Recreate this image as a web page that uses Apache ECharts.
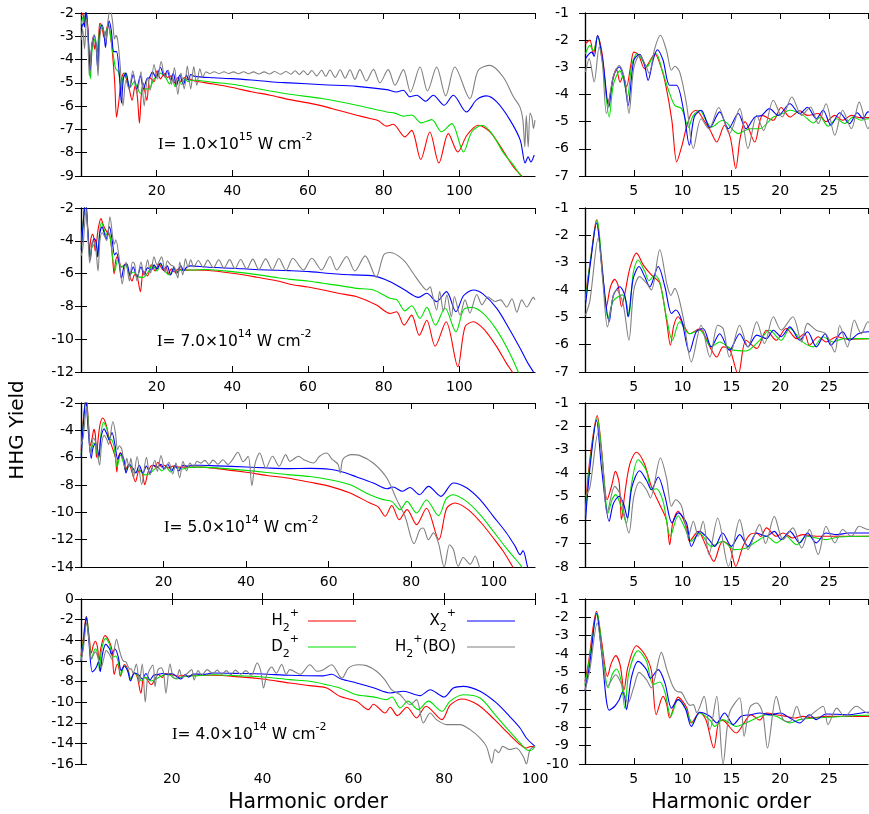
<!DOCTYPE html>
<html><head><meta charset="utf-8">
<script src="https://cdn.jsdelivr.net/npm/echarts@6/dist/echarts.min.js"></script>
<style>html,body{margin:0;padding:0;background:#fff}#c{width:869px;height:814px}</style>
</head><body><div id="c"></div>
<script>
// ---------------- DATA (harmonic order, log10 yield) ----------------
const seriesNames = ['H2+', 'D2+', 'X2+', 'H2+(BO)'];
const intensityMantissa = ['1.0', '7.0', '5.0', '4.0'];
const intensityExponent = ['15', '14', '14', '14'];
const leftXMax = [120, 120, 110, 100];
const leftYMin = [-9, -12, -14, -16];
const leftYMax = [-2, -2, -2, 0];
const leftYInterval = [1, 2, 2, 2];
const rightXMax = 29;
const rightYMin = [-7, -7, -8, -10];
const rightYMax = [-1, -1, -1, -1];

// Row 1: I = 1.0e15
const r1_H2 = [[0.05,-2.13],[0.5,-2.0],[0.85,-2.5],[1.3,-1.85],[1.8,-2.6],[2.35,-4.3],[2.9,-3.4],[3.2,-3.05],[3.6,-3.55],[3.9,-3.3],[4.25,-3.72],[4.7,-2.9],[5.0,-2.44],[5.5,-2.55],[6.1,-3.05],[6.6,-2.8],[7.15,-2.5],[7.8,-3.0],[8.3,-3.7],[8.9,-4.95],[9.4,-6.48],[9.9,-5.93],[10.4,-5.2],[10.9,-4.7],[11.4,-4.58],[12.1,-4.9],[12.8,-5.3],[13.5,-5.75],[14.3,-5.13],[14.9,-5.6],[15.45,-6.73],[15.9,-5.6],[16.4,-5.0],[17.4,-5.75],[18.2,-4.77],[19.3,-4.95],[20.1,-4.48],[21,-4.83],[22,-4.6],[22.8,-4.77],[23.9,-4.7],[24.7,-5.0],[25.6,-4.77],[26.4,-4.95],[27.3,-4.77],[28.1,-4.85],[29,-4.85],[30,-4.92],[35,-5.05],[40,-5.2],[45,-5.38],[50,-5.53],[55.2,-5.72],[60,-5.86],[64,-6.0],[68,-6.18],[72.9,-6.39],[76.4,-6.53],[78.5,-6.62],[80.8,-6.86],[82.5,-6.78],[85.6,-7.32],[87.4,-7.04],[89.8,-8.29],[92.2,-7.11],[94.6,-8.44],[97.1,-7.18],[99.6,-7.97],[102,-7.25],[105,-6.82],[108.1,-7.11],[111.8,-7.97],[114.3,-8.61],[116.5,-9.0],[118,-9.3]];
const r1_D2 = [[0.05,-2.5],[0.5,-2.19],[0.85,-2.4],[1.28,-1.88],[1.85,-2.98],[2.48,-4.83],[2.9,-3.65],[3.57,-3.13],[4.0,-3.53],[4.35,-4.09],[4.8,-2.9],[5.34,-2.5],[5.9,-2.75],[6.37,-2.98],[6.8,-2.7],[7.3,-2.5],[7.9,-3.1],[8.68,-3.97],[9.2,-4.4],[9.9,-4.52],[10.6,-5.2],[11.1,-4.77],[11.76,-4.58],[12.4,-4.95],[12.95,-5.2],[14.1,-4.95],[15.7,-5.44],[16.9,-5.26],[17.9,-5.26],[19.3,-4.83],[20.1,-4.73],[21,-4.58],[22.3,-4.75],[23.4,-5.05],[24.1,-4.83],[24.9,-5.17],[25.8,-4.89],[26.6,-5.07],[27.5,-4.83],[28.3,-4.95],[29,-4.89],[30,-4.89],[35,-4.98],[40,-5.06],[45,-5.2],[50,-5.35],[55.2,-5.49],[64,-5.68],[72.9,-5.96],[80.8,-6.25],[83,-6.3],[85.2,-6.43],[87.4,-6.38],[89.9,-6.72],[92.7,-6.58],[95.3,-7.1],[98,-6.75],[101.1,-7.97],[103.3,-7.1],[106,-6.82],[108.6,-7.18],[111.8,-8.04],[114,-8.47],[116.3,-9.0],[118,-9.3]];
const r1_X2 = [[0.05,-2.68],[0.67,-2.44],[0.94,-2.6],[1.28,-1.82],[1.86,-2.87],[2.44,-4.46],[2.88,-3.36],[3.5,-2.99],[3.98,-3.36],[4.42,-4.4],[5.0,-2.74],[5.6,-2.52],[6.1,-2.92],[6.47,-3.48],[6.98,-2.73],[7.42,-2.35],[8.0,-2.74],[8.68,-3.66],[9.37,-3.66],[10.1,-4.58],[10.7,-5.87],[11.2,-4.82],[11.9,-4.58],[12.8,-5.22],[13.8,-4.64],[14.7,-5.26],[15.7,-4.7],[16.5,-5.26],[17.4,-4.83],[18.1,-4.77],[18.9,-4.52],[19.8,-4.77],[21,-4.34],[22,-4.71],[22.8,-4.47],[23.7,-4.89],[24.4,-4.58],[25.2,-5.13],[26.1,-4.67],[27.1,-5.07],[27.9,-4.67],[28.5,-4.89],[29,-4.64],[30,-4.72],[35,-4.78],[40,-4.82],[45,-4.88],[50,-4.95],[55.2,-5.0],[64,-5.08],[72.9,-5.15],[80.8,-5.29],[83.4,-5.39],[85.2,-5.32],[86.9,-5.6],[88.7,-5.53],[91.1,-5.79],[93.1,-5.53],[96,-5.96],[98.4,-5.53],[101.9,-6.25],[104.6,-5.72],[107.2,-5.56],[109.9,-5.82],[113.4,-6.6],[116.1,-7.46],[117.4,-8.44],[118.2,-8.18],[118.9,-8.4],[119.8,-8.1]];
const r1_BO = [[0.05,-3.17],[0.43,-2.68],[0.94,-3.54],[1.45,-2.25],[1.8,-2.9],[2.2,-4.7],[2.88,-3.36],[3.5,-2.93],[4.1,-3.5],[4.5,-4.7],[5.0,-3.02],[5.6,-2.56],[6.3,-3.0],[6.57,-3.23],[7.15,-2.3],[7.73,-1.82],[8.35,-2.38],[8.86,-3.11],[9.2,-2.96],[9.7,-3.17],[10.4,-4.34],[11.1,-5.99],[11.9,-4.89],[12.7,-5.26],[13.7,-4.48],[14.8,-5.44],[15.85,-4.52],[16.7,-5.99],[17.6,-4.77],[18.3,-5.32],[19.3,-4.21],[20.2,-4.83],[21.2,-4.09],[22.2,-4.77],[23.1,-4.46],[23.9,-5.07],[24.7,-4.34],[25.6,-5.5],[26.4,-4.58],[27.3,-5.26],[28.1,-4.28],[29,-5.26],[29.8,-4.3],[30.6,-5.1],[31.4,-4.4],[32.2,-4.75],[33,-4.52],[34,-4.6],[35.2,-4.52],[36.5,-4.6],[37.8,-4.52],[39,-4.6],[40.3,-4.53],[41.6,-4.61],[43,-4.52],[44.3,-4.61],[45.6,-4.53],[47,-4.62],[48.4,-4.53],[49.8,-4.62],[51.2,-4.51],[52.7,-4.63],[54.2,-4.51],[55.5,-4.63],[56.6,-4.48],[57.7,-4.64],[58.8,-4.48],[59.9,-4.65],[61,-4.47],[62.3,-4.7],[63.6,-4.46],[64.7,-4.72],[65.8,-4.45],[67.2,-4.76],[68.5,-4.44],[69.8,-4.8],[71.1,-4.44],[72.4,-4.85],[73.7,-4.43],[75.4,-4.92],[77.3,-4.42],[79,-5.0],[81.2,-4.43],[83,-5.1],[85.2,-4.43],[87.1,-5.39],[89.6,-4.32],[91.6,-5.35],[94,-4.32],[96.4,-5.56],[98.8,-4.32],[102.8,-5.68],[105,-4.46],[108.1,-4.25],[111.6,-4.75],[114.3,-5.6],[116,-6.03],[116.8,-6.6],[117.3,-7.75],[117.7,-6.4],[118.2,-7.75],[118.7,-6.3],[119.2,-6.5],[119.6,-6.96],[120,-6.6]];

// Row 2: I = 7.0e14
const r2_H2 = [[0.05,-4.2],[0.6,-2.8],[1.18,-1.43],[1.7,-2.9],[2.2,-4.61],[2.6,-3.9],[3.05,-3.61],[3.4,-3.85],[3.74,-4.61],[4.1,-4.1],[4.6,-3.2],[5.28,-2.65],[6.0,-3.1],[6.8,-3.45],[7.66,-3.75],[8.35,-5.1],[8.75,-6.02],[9.1,-5.3],[9.54,-4.98],[10.2,-5.35],[10.7,-5.6],[11.76,-5.42],[12.8,-6.08],[13.5,-6.45],[14.15,-6.08],[14.8,-6.14],[15.7,-7.1],[16.5,-5.84],[17.6,-6.14],[18.6,-5.47],[19.6,-5.84],[20.6,-5.41],[21.7,-5.78],[22.5,-5.6],[23,-6.02],[23.9,-5.71],[24.7,-5.9],[25.8,-5.71],[27,-5.8],[29,-5.78],[33,-5.8],[40,-5.98],[46,-6.2],[52,-6.45],[55.2,-6.65],[60,-6.82],[64,-7.0],[68,-7.2],[72.9,-7.41],[78.1,-7.92],[81.7,-8.43],[83.4,-8.33],[85.4,-9.14],[87.4,-8.53],[89.4,-9.76],[91.4,-8.84],[93.6,-10.43],[96.5,-8.94],[99.6,-11.67],[101.5,-9.25],[103.7,-8.94],[106.8,-9.47],[109.9,-10.47],[112.5,-11.49],[114,-12.0],[115,-12.4]];
const r2_D2 = [[0.05,-4.37],[0.6,-2.8],[1.25,-1.43],[1.8,-3.4],[2.37,-5.04],[2.9,-4.4],[3.84,-4.18],[4.2,-4.4],[4.5,-4.95],[4.93,-3.4],[5.44,-2.9],[6.1,-3.3],[6.57,-3.66],[7.15,-3.45],[7.66,-3.7],[8.35,-5.0],[8.96,-5.84],[9.7,-5.16],[10.7,-5.6],[11.76,-5.47],[12.95,-6.08],[13.8,-5.9],[15.2,-6.2],[16.5,-6.23],[17.9,-5.84],[18.9,-5.47],[20.1,-5.84],[21,-5.41],[22.3,-5.9],[23.4,-6.08],[24.4,-5.71],[25.4,-5.9],[26.5,-5.78],[29,-5.78],[33,-5.75],[40,-5.88],[46,-6.05],[52,-6.25],[55.2,-6.35],[60,-6.45],[64,-6.59],[68,-6.72],[72.9,-6.9],[77.3,-7.0],[81.7,-7.51],[83.5,-7.6],[85.6,-8.27],[87.4,-7.96],[89.6,-8.73],[91.4,-8.06],[93.7,-9.14],[96.2,-8.1],[99.1,-9.55],[101.1,-8.2],[103.3,-8.06],[106.3,-8.43],[109.9,-9.45],[113.4,-10.88],[115.6,-12.0],[116.5,-12.4]];
const r2_X2 = [[0.05,-4.55],[0.6,-2.9],[1.18,-1.55],[1.8,-3.4],[2.48,-5.16],[2.9,-4.2],[3.57,-3.88],[4.08,-4.2],[4.42,-4.98],[4.93,-3.6],[5.55,-3.14],[6.1,-3.5],[6.64,-3.88],[7.5,-3.14],[8.2,-3.9],[8.86,-4.86],[9.3,-4.73],[9.9,-5.1],[10.7,-6.27],[11.4,-5.53],[12.1,-5.41],[12.95,-6.08],[13.8,-5.6],[14.8,-6.2],[15.85,-5.6],[16.7,-6.08],[17.6,-5.65],[18.6,-5.78],[19.3,-5.47],[20.1,-5.71],[21,-5.35],[22,-5.84],[22.8,-5.53],[23.7,-6.08],[24.6,-5.6],[25.2,-6.02],[26.4,-5.53],[27.1,-5.84],[28,-5.6],[29,-5.53],[33,-5.6],[40,-5.67],[46,-5.75],[52,-5.8],[55.2,-5.82],[60.5,-5.88],[65,-5.98],[68.5,-6.04],[72,-6.08],[77.3,-6.14],[81.7,-6.49],[85.6,-7.0],[89.2,-7.45],[91.4,-7.2],[94,-7.71],[96.6,-7.1],[99.1,-8.33],[101.1,-7.35],[103.7,-7.0],[106.3,-7.25],[109.9,-8.12],[113.4,-9.45],[116.1,-10.57],[118.2,-11.49],[119.6,-12.0],[120,-12.2]];
const r2_BO = [[0.05,-4.92],[0.5,-4.4],[1.35,-2.1],[1.85,-3.8],[2.3,-5.35],[2.9,-4.2],[3.23,-4.0],[3.9,-4.5],[4.5,-5.84],[5.0,-4.0],[5.6,-3.51],[6.3,-3.75],[6.8,-4.0],[7.66,-2.53],[8.4,-3.8],[8.8,-4.2],[9.2,-3.94],[10.05,-4.98],[10.9,-6.63],[11.9,-5.29],[12.8,-6.45],[13.6,-5.29],[14.15,-5.41],[14.8,-6.45],[15.85,-5.29],[16.7,-6.08],[17.6,-5.16],[18.4,-5.96],[19.3,-4.98],[20.1,-5.47],[21.3,-4.98],[22.2,-5.9],[22.8,-5.22],[23.7,-5.47],[24.7,-5.61],[25.6,-6.27],[26.1,-5.3],[26.9,-6.08],[27.6,-5.1],[28.3,-5.6],[29,-5.16],[29.8,-5.6],[31,-5.2],[32.3,-5.62],[33.5,-5.18],[35,-5.64],[36.4,-5.16],[37.8,-5.66],[39.3,-5.15],[40.7,-5.7],[42.2,-5.14],[43.8,-5.72],[45.4,-5.12],[47,-5.75],[48.8,-5.1],[50.6,-5.77],[52.3,-5.08],[54.2,-5.8],[56,-5.06],[58.8,-5.78],[61,-5.06],[63.6,-5.78],[65.8,-4.96],[67.6,-5.78],[70.2,-4.96],[72.4,-5.84],[75.1,-4.92],[78,-6.22],[80,-4.86],[81.7,-4.71],[85.2,-5.16],[87.8,-5.98],[90,-6.69],[91.4,-7.0],[92.3,-6.8],[92.7,-7.1],[94,-8.22],[94.8,-7.1],[95.8,-8.3],[96.7,-7.3],[97.9,-8.63],[98.7,-7.4],[100.2,-8.53],[101.5,-7.6],[102.8,-8.4],[104.6,-7.27],[106,-7.9],[107.6,-7.43],[109.5,-7.7],[110.9,-7.6],[112.5,-8.04],[113.9,-7.53],[115.2,-8.35],[116.5,-7.6],[117.8,-8.04],[119.6,-7.45],[120,-7.6]];

// Row 3: I = 5.0e14
const r3_H2 = [[0.05,-5.5],[0.5,-3.4],[1.25,-1.54],[1.7,-3.0],[2.27,-5.13],[2.75,-4.5],[3.12,-3.92],[3.5,-4.4],[3.74,-5.98],[4.1,-4.8],[4.6,-3.6],[5.27,-3.1],[6.1,-3.6],[6.8,-4.56],[7.66,-5.34],[8.35,-6.0],[8.68,-7.05],[9.0,-6.1],[9.54,-5.62],[10.4,-6.3],[10.7,-6.9],[11.6,-6.48],[12.4,-7.1],[13.2,-7.76],[13.8,-7.1],[14.1,-6.9],[14.8,-7.1],[15.45,-7.97],[16.2,-7.1],[16.9,-6.62],[17.6,-6.55],[18.0,-6.7],[18.6,-6.33],[19.6,-6.69],[20.3,-6.55],[21.3,-6.76],[22.3,-6.62],[23.7,-6.69],[25,-6.69],[29,-6.69],[33,-6.8],[40,-7.07],[45,-7.3],[50,-7.49],[55.5,-7.8],[60.3,-8.1],[65.2,-8.59],[70,-9.32],[72,-9.6],[73.7,-10.29],[75.3,-9.5],[77.1,-10.54],[79,-9.8],[81.3,-10.9],[83.7,-9.7],[86.7,-12.0],[88.6,-9.7],[90.6,-9.32],[93.8,-9.8],[97,-10.78],[99.9,-11.88],[102.3,-12.85],[104.3,-13.83],[105,-14.2]];
const r3_D2 = [[0.05,-5.8],[0.5,-3.6],[1.25,-1.64],[1.75,-3.3],[2.37,-5.69],[2.8,-5.1],[3.16,-4.91],[3.6,-5.3],[4.25,-6.12],[4.75,-4.5],[5.44,-3.42],[6.3,-3.9],[6.8,-4.7],[7.3,-4.66],[8.0,-5.2],[8.75,-6.69],[9.54,-5.81],[10.2,-6.3],[10.9,-6.9],[11.76,-6.55],[12.95,-7.12],[14.1,-6.9],[15.3,-7.26],[16.5,-7.19],[17.6,-6.9],[18.6,-6.69],[19.6,-6.97],[20.6,-6.69],[21.7,-7.05],[22.7,-6.69],[23.7,-6.76],[24.7,-6.83],[26,-6.72],[29,-6.69],[33,-6.75],[40,-6.93],[45,-7.08],[50,-7.24],[55.5,-7.38],[60.3,-7.61],[65.2,-7.98],[70,-8.71],[73.2,-9.07],[75.3,-9.2],[77.3,-9.8],[79,-9.2],[81.3,-10.05],[83.7,-9.1],[86.6,-10.24],[88.5,-9.0],[90.2,-8.71],[93.4,-9.2],[96.7,-10.17],[99.9,-11.39],[102.7,-12.49],[104.7,-13.22],[106.4,-13.83],[107.2,-14.2]];
const r3_X2 = [[0.05,-6.0],[0.5,-3.8],[1.18,-1.74],[1.7,-3.8],[2.48,-6.05],[2.9,-5.3],[3.5,-4.98],[3.95,-5.3],[4.35,-5.91],[4.8,-4.6],[5.6,-3.89],[6.3,-4.3],[6.8,-4.7],[7.5,-4.16],[8.2,-5.0],[8.92,-6.12],[9.54,-5.69],[10.4,-6.12],[10.9,-7.12],[11.76,-6.48],[12.7,-6.83],[13.3,-7.12],[14.1,-6.55],[15,-7.12],[15.85,-6.62],[16.7,-7.12],[17.6,-6.55],[18.6,-6.69],[19.4,-6.48],[20.1,-6.83],[21,-6.48],[22,-6.97],[22.8,-6.55],[23.7,-6.97],[24.7,-6.55],[25.8,-6.62],[27,-6.55],[29,-6.55],[33,-6.6],[40,-6.68],[45,-6.75],[50,-6.8],[55.5,-6.78],[60.3,-6.85],[63.6,-7.07],[66.8,-7.41],[70.8,-7.85],[74.2,-8.27],[75.6,-8.15],[77.9,-8.46],[79.7,-8.18],[82,-8.71],[84.2,-8.1],[87.2,-8.83],[90.2,-7.85],[93.4,-8.2],[96.7,-9.07],[99.9,-10.29],[103.1,-11.51],[105.2,-12.49],[106.4,-13.1],[107.1,-12.8],[108.2,-14.0],[108.6,-14.3]];
const r3_BO = [[0.05,-4.98],[0.5,-4.6],[1.35,-2.25],[1.8,-3.6],[2.27,-5.69],[3.05,-4.56],[3.6,-4.9],[4.5,-6.55],[5.0,-5.0],[5.6,-4.37],[6.3,-4.7],[6.7,-5.05],[7.73,-3.35],[8.35,-4.2],[8.86,-5.41],[9.3,-5.13],[9.9,-5.4],[10.6,-6.69],[11.1,-6.05],[11.6,-6.69],[12.1,-6.05],[12.7,-7.47],[13.6,-5.91],[14.7,-7.97],[15.85,-5.98],[16.7,-7.26],[17.9,-6.19],[18.5,-7.0],[19.4,-5.84],[20.3,-6.83],[21.3,-6.33],[22.2,-7.19],[23,-6.4],[23.9,-7.47],[24.7,-6.26],[25.6,-6.97],[26.4,-6.4],[27.3,-6.69],[28.1,-6.26],[29,-6.4],[30,-6.2],[31,-6.5],[32,-6.18],[33.2,-6.48],[34.4,-6.15],[35.6,-6.5],[36.8,-6.1],[38,-5.6],[39.3,-6.3],[40.5,-5.9],[41.4,-8.05],[42.2,-6.4],[43.3,-5.66],[44.8,-6.76],[46.4,-5.9],[48,-6.63],[49.6,-5.78],[50.6,-6.27],[52.7,-5.9],[54,-6.15],[56.3,-6.39],[57.8,-5.9],[59.5,-5.66],[60.8,-6.1],[62.3,-6.5],[62.8,-7.12],[63.5,-6.1],[65.6,-5.78],[67.6,-5.85],[70.8,-6.39],[74.1,-7.49],[76.5,-9.07],[78.5,-10.29],[80.7,-12.29],[82.1,-11.27],[82.9,-11.15],[84.2,-12.0],[85.4,-11.5],[86.6,-12.24],[88,-14.0],[89.3,-12.37],[90.2,-12.7],[91.4,-13.95],[92.6,-13.3],[94.3,-13.8],[95.5,-13.2],[96.7,-14.1],[98,-14.6],[100,-15]];

// Row 4: I = 4.0e14
const r4_H2 = [[0.0,-5.5],[0.35,-4.5],[1.18,-1.67],[1.7,-3.3],[2.3,-5.22],[2.7,-4.5],[3.16,-4.09],[3.6,-4.6],[4.0,-5.95],[4.4,-4.7],[5.27,-3.55],[6.1,-4.0],[6.8,-4.9],[7.3,-7.31],[8.0,-6.31],[8.35,-6.7],[8.68,-7.49],[9.54,-6.35],[10.4,-6.9],[10.9,-7.76],[11.76,-7.18],[12.4,-7.6],[13.2,-9.13],[13.8,-7.6],[14.3,-7.67],[15.5,-8.31],[16.4,-7.67],[17.0,-7.31],[17.9,-7.6],[18.6,-7.22],[19.6,-7.31],[20.6,-7.4],[21.5,-7.49],[22.3,-7.4],[23.4,-7.49],[24.7,-7.4],[29,-7.4],[35,-7.55],[40,-7.76],[46,-8.15],[50.4,-8.4],[54.1,-8.63],[57,-9.44],[60.7,-9.92],[63.3,-10.73],[64.4,-10.2],[67,-11.05],[68.1,-10.5],[69.7,-11.31],[71.8,-10.5],[73.9,-11.54],[76,-10.4],[79.5,-11.7],[81.3,-10.3],[83.8,-9.7],[87.4,-10.25],[91.1,-11.7],[94,-12.99],[96.7,-14.12],[98.1,-14.45],[99,-14.3],[100,-14.3]];
const r4_D2 = [[0.0,-5.7],[0.4,-4.5],[1.25,-1.76],[1.8,-4.0],[2.37,-5.85],[2.8,-5.1],[3.22,-4.82],[3.7,-5.45],[4.08,-6.95],[4.5,-5.0],[5.44,-3.82],[6.3,-4.4],[6.98,-5.67],[7.66,-5.53],[8.2,-6.1],[8.79,-7.4],[9.54,-6.49],[10.3,-6.95],[11,-7.76],[11.76,-7.22],[12.8,-7.6],[13.3,-7.95],[14.1,-7.58],[15.5,-7.95],[16.5,-7.76],[17.6,-7.49],[18.6,-7.31],[19.6,-7.4],[21,-7.76],[22,-7.58],[23.4,-7.49],[25,-7.45],[29,-7.34],[35,-7.45],[40,-7.56],[46,-7.82],[50.4,-7.98],[54.1,-8.31],[57,-8.63],[60.7,-9.28],[64.4,-9.49],[67.3,-9.76],[68.5,-9.5],[70.3,-10.57],[72,-9.9],[74.3,-10.73],[76.5,-9.9],[79.5,-10.89],[81.3,-9.9],[84.2,-9.28],[87.9,-9.6],[91.5,-11.38],[94.4,-12.83],[96.7,-13.96],[98.1,-14.61],[99,-14.7],[100,-14.3]];
const r4_X2 = [[0.0,-6.0],[0.5,-4.5],[1.18,-1.76],[1.7,-3.9],[2.48,-7.07],[3.05,-6.85],[3.5,-6.5],[3.84,-6.09],[4.05,-6.3],[4.25,-7.04],[4.75,-5.3],[5.44,-4.4],[6.3,-4.85],[6.7,-5.33],[7.5,-4.85],[8.2,-5.6],[8.86,-6.95],[9.54,-6.49],[10.3,-7.0],[10.9,-7.95],[11.76,-7.18],[12.8,-7.4],[13.5,-7.76],[14.3,-7.22],[15.2,-7.85],[16,-7.4],[17,-7.31],[17.9,-7.22],[19,-7.31],[20,-7.22],[21,-7.49],[22,-7.76],[23,-7.31],[23.7,-7.58],[24.7,-7.27],[27,-7.31],[29,-7.18],[35,-7.22],[40,-7.27],[46,-7.4],[53.4,-7.45],[55.2,-7.3],[57.3,-7.76],[60.7,-8.14],[64.4,-8.6],[68.1,-9.11],[71,-8.95],[74.7,-9.37],[76.9,-8.8],[80,-9.5],[82,-8.63],[84.2,-8.47],[87.9,-8.95],[91.5,-10.08],[94.4,-11.38],[96.7,-12.51],[98.1,-13.48],[100,-14.29]];
const r4_BO = [[0.0,-6.0],[0.5,-4.85],[1.25,-2.31],[1.8,-4.2],[2.3,-5.76],[3.16,-5.13],[3.7,-5.6],[4.42,-6.67],[5.0,-5.8],[5.55,-5.0],[6.3,-5.4],[6.8,-5.85],[7.83,-3.91],[8.35,-4.8],[9.0,-5.76],[9.4,-6.04],[9.9,-6.1],[10.4,-6.58],[10.75,-6.8],[11.1,-6.76],[11.45,-7.2],[12.2,-6.31],[12.8,-8.13],[13.5,-6.31],[14.15,-10.0],[14.8,-7.22],[15.85,-6.4],[16.3,-8.49],[16.9,-6.9],[17.6,-6.67],[18.2,-7.2],[18.7,-9.13],[19.6,-6.31],[20.3,-7.58],[21,-7.7],[21.7,-6.85],[22.3,-7.58],[23.2,-7.3],[24.4,-6.85],[24.9,-7.85],[25.8,-6.95],[26.6,-7.4],[27.8,-6.85],[29,-7.22],[30,-6.9],[31,-7.3],[32,-6.95],[33,-7.35],[34,-6.9],[35.2,-7.3],[36.3,-6.95],[37.5,-7.4],[38.8,-6.2],[39.6,-7.0],[40.2,-8.63],[41,-7.2],[42,-6.6],[43,-7.2],[44.2,-6.35],[45.2,-7.3],[46,-6.85],[48.3,-7.3],[50.4,-6.37],[52,-7.0],[53.4,-6.85],[55.2,-6.37],[57,-7.5],[57.5,-7.66],[58.9,-6.7],[61.1,-6.37],[62.9,-6.46],[65.1,-7.01],[66.9,-7.82],[68.4,-8.79],[70.3,-9.28],[72.5,-10.25],[73.9,-9.76],[75.4,-12.02],[76.9,-11.05],[78.3,-11.7],[80.5,-12.18],[83.5,-12.18],[85.7,-12.67],[87.9,-13.48],[89.3,-14.29],[90.5,-15.9],[91.2,-14.6],[92,-14.9],[92.9,-14.29],[94.4,-14.6],[95.9,-14.45],[97.4,-15.27],[98.1,-16.0],[98.9,-14.6],[100,-14.29]];

const rowData = [
  [r1_H2, r1_D2, r1_X2, r1_BO],
  [r2_H2, r2_D2, r2_X2, r2_BO],
  [r3_H2, r3_D2, r3_X2, r3_BO],
  [r4_H2, r4_D2, r4_X2, r4_BO]
];

// ---------------- LAYOUT / STYLE ----------------
const colors = ['#ff0000', '#00e000', '#0000ff', '#808080'];
const rowTop = [13, 208, 403, 599];
const rowHeight = [163, 164, 164, 165];
const leftGridX = 81, leftGridW = 454;
const rightGridX = 585, rightGridW = 283;
const FONT = 'DejaVu Sans, Liberation Sans, Arial, sans-serif';

const grids = [], xAxes = [], yAxes = [], series = [];
const axisLine = { show: true, lineStyle: { color: '#000', width: 1.2 } };
const tickStyle = { show: true, inside: true, length: 6, lineStyle: { color: '#000', width: 1 } };
const lblStyle = { color: '#000', fontSize: 14, fontFamily: FONT };

for (let r = 0; r < 4; r++) {
  for (let c = 0; c < 2; c++) {
    const g = r * 2 + c;
    grids.push({ left: c === 0 ? leftGridX : rightGridX, top: rowTop[r],
      width: c === 0 ? leftGridW : rightGridW, height: rowHeight[r], containLabel: false });
    const xmax = c === 0 ? leftXMax[r] : rightXMax;
    const xint = c === 0 ? 20 : 5;
    const ymin = c === 0 ? leftYMin[r] : rightYMin[r];
    const ymax = c === 0 ? leftYMax[r] : rightYMax[r];
    const yint = c === 0 ? leftYInterval[r] : 1;
    const showMaxX = (c === 0 && r === 3);
    xAxes.push({ type: 'value', gridIndex: g, min: 0, max: xmax, interval: xint, position: 'bottom',
      axisLine, axisTick: tickStyle, splitLine: { show: false },
      axisLabel: Object.assign({ margin: 8, showMinLabel: false, showMaxLabel: showMaxX }, lblStyle) });
    xAxes.push({ type: 'value', gridIndex: g, min: 0, max: xmax, interval: xint, position: 'top',
      axisLine, axisTick: tickStyle, splitLine: { show: false }, axisLabel: { show: false } });
    yAxes.push({ type: 'value', gridIndex: g, min: ymin, max: ymax, interval: yint, position: 'left',
      axisLine, axisTick: tickStyle, splitLine: { show: false },
      axisLabel: Object.assign({ margin: c === 0 ? 7 : 16 }, lblStyle) });
    yAxes.push({ type: 'value', gridIndex: g, min: ymin, max: ymax, interval: yint, position: 'right',
      axisLine, axisTick: tickStyle, splitLine: { show: false }, axisLabel: { show: false } });
    for (let s = 0; s < 4; s++) {
      series.push({ type: 'line', name: seriesNames[s], xAxisIndex: g * 2, yAxisIndex: g * 2,
        data: rowData[r][s], symbol: 'none', smooth: 0.3, clip: true, silent: true,
        lineStyle: { color: colors[s], width: 1.1 }, itemStyle: { color: colors[s] }, z: 2 + s });
    }
  }
}

const richMain = {
  n: { fontSize: 15.5, lineHeight: 26, fontFamily: FONT, color: '#000' },
  i: { fontSize: 16.5, lineHeight: 26, fontFamily: 'Liberation Serif, DejaVu Serif, serif', color: '#000' },
  s: { fontSize: 11, lineHeight: 13, verticalAlign: 'top', fontFamily: FONT, color: '#000' },
  b: { fontSize: 11, lineHeight: 13, verticalAlign: 'bottom', fontFamily: FONT, color: '#000' }
};
const richLegend = {
  n: { fontSize: 15, lineHeight: 26, fontFamily: FONT, color: '#000' },
  s: { fontSize: 11, lineHeight: 13, verticalAlign: 'top', fontFamily: FONT, color: '#000' },
  b: { fontSize: 11, lineHeight: 13, verticalAlign: 'bottom', fontFamily: FONT, color: '#000' }
};
const annotX = [158, 157, 164, 172];
const annotY = [145, 342, 528, 735];
const graphics = [];
for (let r = 0; r < 4; r++) {
  graphics.push({ type: 'text', x: annotX[r], y: annotY[r], z: 100,
    style: { text: '{i|I}{n|= ' + intensityMantissa[r] + '×10}{s|' + intensityExponent[r] + '}{n| W cm}{s|-2}',
      rich: richMain, align: 'left', verticalAlign: 'middle' } });
}
// legend (drawn inside bottom-left panel)
const legendLabels = ['H{b|2}{s|+}', 'D{b|2}{s|+}', 'X{b|2}{s|+}', 'H{b|2}{s|+}(BO)'];
const legTextX = [299, 299, 456, 456];
const legLineX = [308, 308, 467, 467];
const legY = [621, 647, 621, 647];
for (let s = 0; s < 4; s++) {
  const parts = legendLabels[s].split(/(\{[bs]\|[^}]*\})/).filter(p => p.length);
  const txt = parts.map(p => p.startsWith('{') ? p : '{n|' + p + '}').join('');
  graphics.push({ type: 'text', x: legTextX[s], y: legY[s], z: 100,
    style: { text: txt, rich: richLegend, align: 'right', verticalAlign: 'middle' } });
  graphics.push({ type: 'line', z: 100, shape: { x1: legLineX[s], y1: legY[s], x2: legLineX[s] + 48, y2: legY[s] },
    style: { stroke: colors[s], lineWidth: 1.1 } });
}
graphics.push({ type: 'text', x: 18, y: 430, rotation: Math.PI / 2, z: 100,
  style: { text: 'HHG Yield', font: '20px ' + FONT, fill: '#000', align: 'center', verticalAlign: 'middle' } });
graphics.push({ type: 'text', x: 308, y: 803, z: 100,
  style: { text: 'Harmonic order', font: '20.5px ' + FONT, fill: '#000', align: 'center', verticalAlign: 'middle' } });
graphics.push({ type: 'text', x: 731, y: 803, z: 100,
  style: { text: 'Harmonic order', font: '20.5px ' + FONT, fill: '#000', align: 'center', verticalAlign: 'middle' } });

const chart = echarts.init(document.getElementById('c'), null, { renderer: 'canvas' });
chart.setOption({
  animation: false,
  backgroundColor: '#fff',
  grid: grids, xAxis: xAxes, yAxis: yAxes, series: series,
  graphic: graphics
});
</script></body></html>
